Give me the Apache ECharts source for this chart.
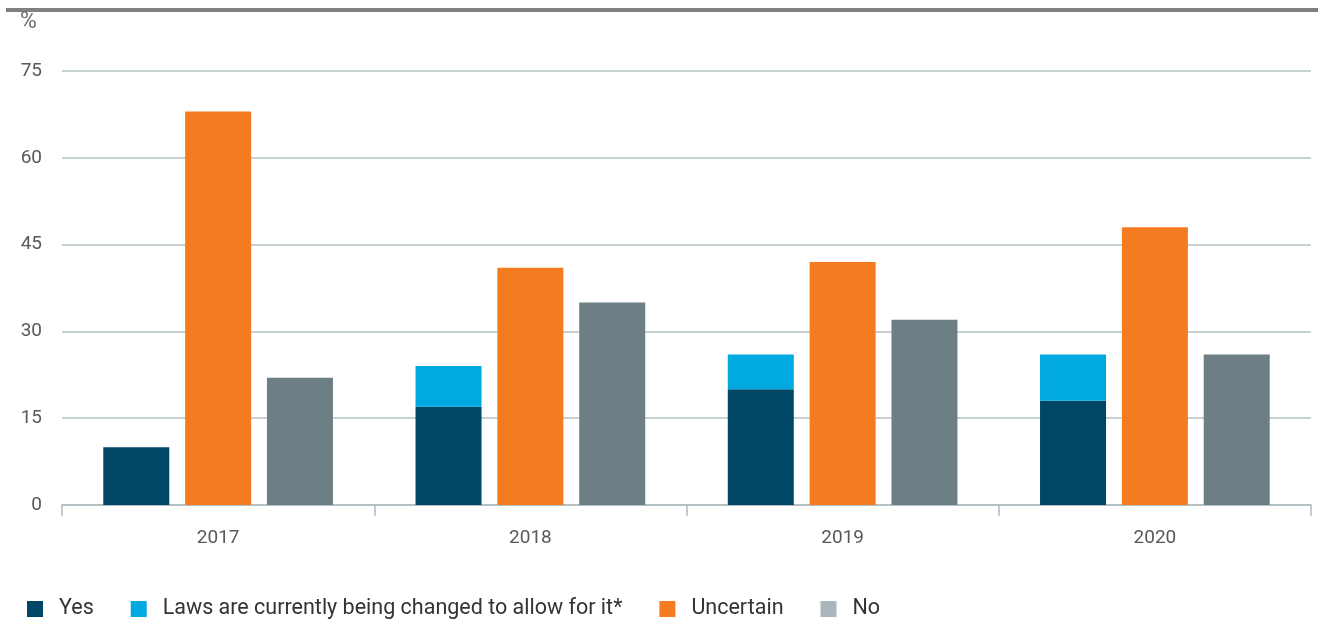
<!DOCTYPE html>
<html><head><meta charset="utf-8">
<script src="https://cdn.jsdelivr.net/npm/echarts@6/dist/echarts.min.js"></script>
<style>html,body{margin:0;padding:0;background:#fff}#c{width:1318px;height:620px}</style>
</head><body><div id="c"></div>
<script>
const categories = ['2017', '2018', '2019', '2020'];
const yesValues = [10, 17, 20, 18];
const lawsValues = [0, 7, 6, 8];
const uncertainValues = [68, 41, 42, 48];
const noValues = [22, 35, 32, 26];
const yTicks = [0, 15, 30, 45, 60, 75];

const chart = echarts.init(document.getElementById('c'));
const font = 'Roboto, "Liberation Sans", sans-serif';
chart.setOption({
  animation: false,
  textStyle: { fontFamily: font },
  graphic: [
    { type: 'rect', shape: { x: 6, y: 8, width: 1312, height: 4 }, style: { fill: '#808080' } },
    { type: 'text', x: 20, y: 11, style: { text: '%', fontSize: 23, fontFamily: font, fill: '#6d6e70' } }
  ],
  grid: { left: 62, right: 7, top: 71, bottom: 115 },
  legend: {
    left: 22, top: 593, itemWidth: 16, itemHeight: 16, itemGap: 37, icon: 'rect',
    textStyle: { fontSize: 21.5, color: '#333', padding: [0, 0, 0, 11], fontFamily: font },
    data: [
      { name: 'Yes' },
      { name: 'Laws are currently being changed to allow for it*' },
      { name: 'Uncertain' },
      { name: 'No', itemStyle: { color: '#a9b7bc' } }
    ]
  },
  xAxis: {
    type: 'category', data: categories,
    axisLine: { lineStyle: { color: '#aebbc0', width: 1.5 } },
    axisTick: { show: true, length: 11, lineStyle: { color: '#aebbc0', width: 1.5 } },
    axisLabel: { fontSize: 19, color: '#58595b', margin: 24 }
  },
  yAxis: {
    type: 'value', min: yTicks[0], max: yTicks[yTicks.length - 1], interval: 15,
    axisLine: { show: false }, axisTick: { show: false },
    axisLabel: { fontSize: 19, color: '#58595b', margin: 20 },
    splitLine: { lineStyle: { color: '#b4c0c4', width: 1.5 } }
  },
  series: [
    { name: 'Yes', type: 'bar', stack: 'a', data: yesValues, barWidth: 66, barGap: '24%', itemStyle: { color: '#004767' } },
    { name: 'Laws are currently being changed to allow for it*', type: 'bar', stack: 'a', data: lawsValues, barWidth: 66, barGap: '24%', itemStyle: { color: '#00a9df' } },
    { name: 'Uncertain', type: 'bar', data: uncertainValues, barWidth: 66, barGap: '24%', itemStyle: { color: '#f47b20' } },
    { name: 'No', type: 'bar', data: noValues, barWidth: 66, barGap: '24%', itemStyle: { color: '#6d7f84' } }
  ]
});
</script></body></html>
